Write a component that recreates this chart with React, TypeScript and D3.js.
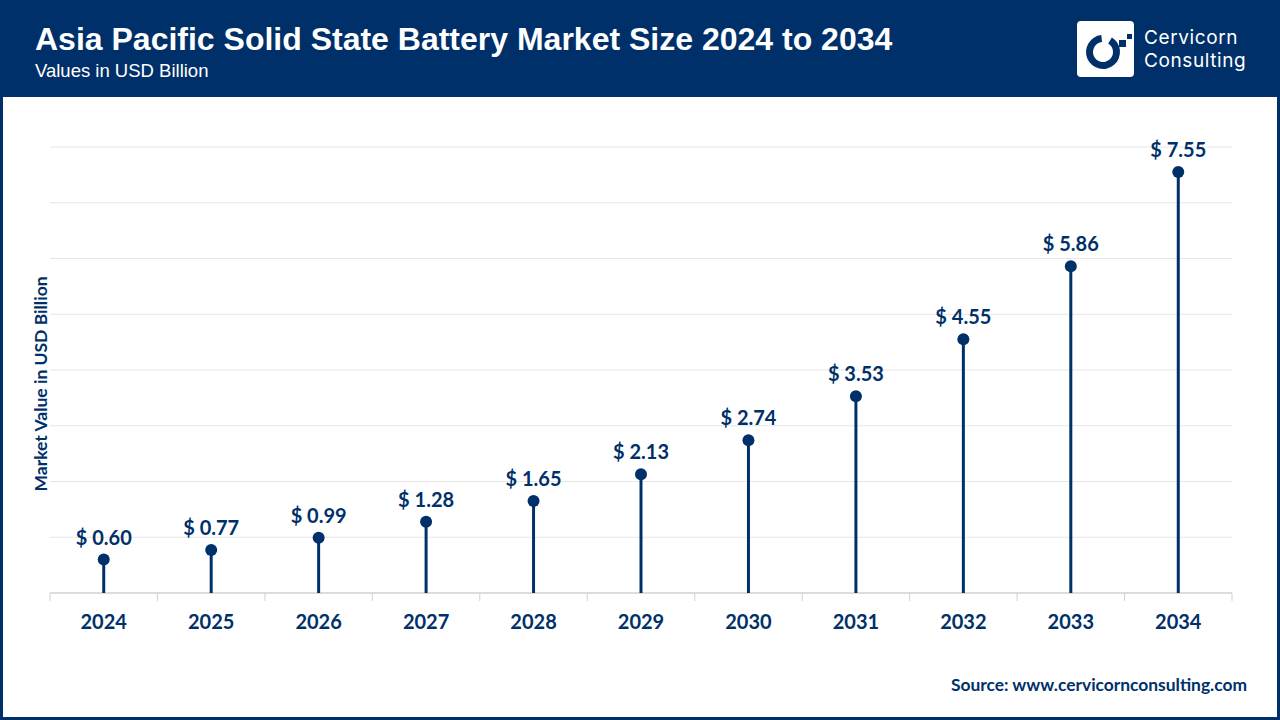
import React from "react";
import * as d3 from "d3";

const years = ["2024", "2025", "2026", "2027", "2028", "2029", "2030", "2031", "2032", "2033", "2034"];
const values = [0.6, 0.77, 0.99, 1.28, 1.65, 2.13, 2.74, 3.53, 4.55, 5.86, 7.55];
const gridTicks = [1, 2, 3, 4, 5, 6, 7, 8];

const NAVY = "#003069";
const W = 1280;
const H = 720;
const left = 50;
const right = 1232;
const top = 147;
const bottom = 593;

export default function App() {
  const x = d3.scaleBand<string>().domain(years).range([left, right]).padding(0);
  const y = d3.scaleLinear().domain([0, 8]).range([bottom, top]);
  const bw = x.bandwidth();
  const labelFont = "Lato, 'Open Sans', sans-serif";

  return (
    <svg width={W} height={H} style={{ position: "fixed", left: 0, top: 0, background: "#fff" }}>
      <rect x={0} y={0} width={W} height={H} fill="#fff" />
      <rect x={0} y={0} width={W} height={97} fill={NAVY} />
      <rect x={1.5} y={1.5} width={W - 3} height={H - 3} fill="none" stroke={NAVY} strokeWidth={3} />
      <text x={35} y={50} fill="#fff" fontFamily="'Liberation Sans', Arial, sans-serif" fontWeight="bold" fontSize={32}>
        Asia Pacific Solid State Battery Market Size 2024 to 2034
      </text>
      <text x={35} y={77} fill="#fff" fontFamily="'Liberation Sans', Arial, sans-serif" fontSize={18.5}>
        Values in USD Billion
      </text>
      {/* logo */}
      <g>
        <rect x={1077} y={21} width={57} height={56} rx={4} fill="#fff" />
        <path
          d={d3.arc()({ innerRadius: 10, outerRadius: 17, startAngle: 0.55, endAngle: Math.PI * 2 - 0.1 }) || ""}
          transform="translate(1103,52)"
          fill={NAVY}
        />
        <rect x={1119} y={40} width={7} height={7} fill={NAVY} />
        <rect x={1127} y={34} width={5} height={5} fill={NAVY} />
        <text x={1144} y={44} fill="#fff" fontFamily="Inter, 'Noto Sans', sans-serif" fontSize={19} letterSpacing={0.6}>
          Cervicorn
        </text>
        <text x={1144} y={67} fill="#fff" fontFamily="Inter, 'Noto Sans', sans-serif" fontSize={19} letterSpacing={0.6}>
          Consulting
        </text>
      </g>
      {/* grid */}
      {gridTicks.map((t) => (
        <line key={t} x1={left} x2={right} y1={y(t)} y2={y(t)} stroke="#e6e6e6" strokeWidth={1} />
      ))}
      <line x1={left} x2={right} y1={bottom} y2={bottom} stroke="#d0d0d0" strokeWidth={1.5} />
      {years.map((yr) => (
        <line key={"t" + yr} x1={x(yr)!} x2={x(yr)!} y1={bottom} y2={bottom + 8} stroke="#d0d0d0" strokeWidth={1} />
      ))}
      <line x1={right} x2={right} y1={bottom} y2={bottom + 8} stroke="#d0d0d0" strokeWidth={1} />
      {/* lollipops */}
      {years.map((yr, i) => {
        const cx = x(yr)! + bw / 2;
        const cy = y(values[i]);
        return (
          <g key={yr}>
            <line x1={cx} x2={cx} y1={bottom} y2={cy} stroke={NAVY} strokeWidth={3} />
            <circle cx={cx} cy={cy} r={6} fill={NAVY} />
            <text x={cx} y={cy - 15} textAnchor="middle" fill={NAVY} fontFamily={labelFont} fontWeight="bold" fontSize={20}>
              {"$ " + values[i].toFixed(2)}
            </text>
            <text x={cx} y={629} textAnchor="middle" fill={NAVY} fontFamily={labelFont} fontWeight="bold" fontSize={20}>
              {yr}
            </text>
          </g>
        );
      })}
      <text
        transform={`translate(47,384) rotate(-90)`}
        textAnchor="middle"
        fill={NAVY}
        fontFamily={labelFont}
        fontWeight="bold"
        fontSize={17.5}
      >
        Market Value in USD Billion
      </text>
      <text x={1247} y={691} textAnchor="end" fill={NAVY} fontFamily={labelFont} fontWeight="bold" fontSize={17.4}>
        Source: www.cervicornconsulting.com
      </text>
    </svg>
  );
}
